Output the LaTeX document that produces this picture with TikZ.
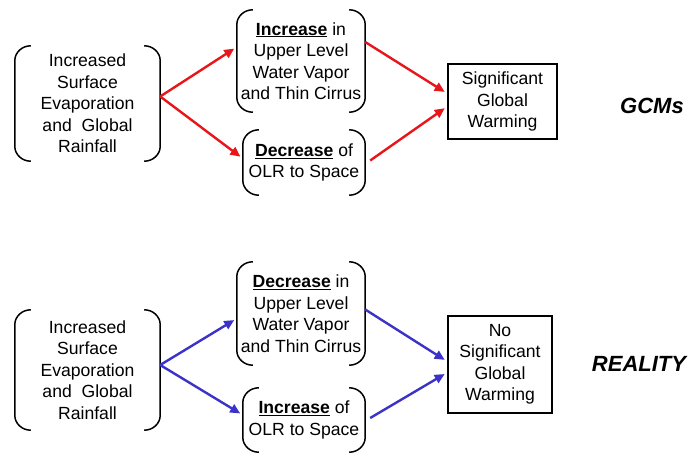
\documentclass[tikz,border=0pt]{standalone}
\usepackage{fontspec}
\setmainfont{Liberation Sans}
\usetikzlibrary{arrows.meta}

\definecolor{gcmred}{RGB}{232,22,27}
\definecolor{realblue}{RGB}{59,51,200}

\tikzset{
  txt/.style={align=center, inner sep=0pt, font=\fontsize{17.6}{21.5}\selectfont},
  result/.style={txt, draw, line width=1.5pt},
  tag/.style={font=\fontsize{22}{24}\selectfont\bfseries\itshape},
  flow/.style={line width=2.4pt, shorten >=3pt, -{Triangle[length=10pt,width=9pt]}}
}

% rounded brackets left and right of a node
\newcommand{\parens}[1]{%
  \draw[line width=1.5pt] ([xshift=16pt]#1.north west) to[out=180,in=90] ([yshift=-15pt]#1.north west)
    -- ([yshift=15pt]#1.south west) to[out=-90,in=180] ([xshift=16pt]#1.south west);
  \draw[line width=1.5pt] ([xshift=-16pt]#1.north east) to[out=0,in=90] ([yshift=-15pt]#1.north east)
    -- ([yshift=15pt]#1.south east) to[out=-90,in=0] ([xshift=-16pt]#1.south east);
}

\begin{document}
\begin{tikzpicture}[x=1pt, y=-1pt]
  \useasboundingbox (0,0) rectangle (694,455);

  % GCMs
  \node[txt, minimum width=145pt, minimum height=115pt] (cause1) at (87.5,103.5)
    {Increased\\Surface\\Evaporation\\and\ \ Global\\Rainfall};
  \node[txt, minimum width=128pt, minimum height=102pt] (upper1) at (301,61)
    {\underline{\textbf{Increase}} in\\Upper Level\\Water Vapor\\and Thin Cirrus};
  \node[txt, minimum width=122pt, minimum height=65pt] (olr1) at (304,162.5)
    {\underline{\textbf{Decrease}} of\\OLR to Space};
  \node[result, minimum width=109pt, minimum height=75pt] (warm1) at (502.5,101.5)
    {Significant\\Global\\Warming};
  \node[tag] (gcm) at (652,106) {GCMs};
  \parens{cause1}
  \parens{upper1}
  \parens{olr1}

  \draw[flow, gcmred] ([yshift=7pt]cause1.east) -- ([yshift=14pt]upper1.west);
  \draw[flow, gcmred] ([yshift=7pt]cause1.east) -- ([yshift=4pt]olr1.west);
  \draw[flow, gcmred] ([yshift=19pt]upper1.east) -- ([yshift=8pt]warm1.west);
  \draw[flow, gcmred] ([xshift=5pt,yshift=2pt]olr1.east) -- ([yshift=-5pt]warm1.west);

  % reality
  \node[txt, minimum width=145pt, minimum height=120pt] (cause2) at (87.5,370)
    {Increased\\Surface\\Evaporation\\and\ \ Global\\Rainfall};
  \node[txt, minimum width=128pt, minimum height=103pt] (upper2) at (301,313.5)
    {\underline{\textbf{Decrease}} in\\Upper Level\\Water Vapor\\and Thin Cirrus};
  \node[txt, minimum width=122pt, minimum height=64pt] (olr2) at (304,420)
    {\underline{\textbf{Increase}} of\\OLR to Space};
  \node[result, minimum width=104pt, minimum height=97pt] (warm2) at (500,364.5)
    {No\\Significant\\Global\\Warming};
  \node[tag] (real) at (639,364) {REALITY};
  \parens{cause2}
  \parens{upper2}
  \parens{olr2}

  \draw[flow, realblue] ([yshift=5pt]cause2.east) -- ([yshift=-5pt]upper2.west);
  \draw[flow, realblue] ([yshift=5pt]cause2.east) -- ([yshift=5pt]olr2.west);
  \draw[flow, realblue] ([yshift=4pt]upper2.east) -- ([yshift=3pt]warm2.west);
  \draw[flow, realblue] ([xshift=5pt,yshift=2pt]olr2.east) -- ([yshift=-8pt]warm2.west);
\end{tikzpicture}
\end{document}
